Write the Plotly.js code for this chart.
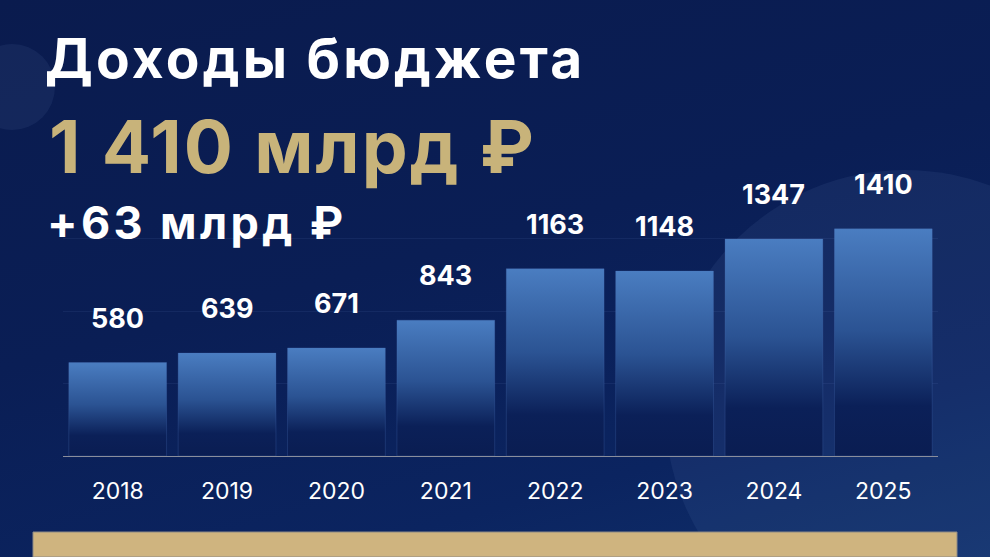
<!DOCTYPE html>
<html>
<head>
<meta charset="utf-8">
<script src="https://cdn.plot.ly/plotly-3.0.1.min.js"></script>
<style>
  html, body { margin: 0; padding: 0; width: 990px; height: 557px; overflow: hidden; }
  body { background: linear-gradient(165deg, #0A1B4E 0%, #0A1E55 45%, #0B2460 78%, #10306B 100%); }
  #chart { width: 990px; height: 557px; }
</style>
</head>
<body>
<div id="chart"></div>
<script>
// ---- data ----
const years = ['2018', '2019', '2020', '2021', '2022', '2023', '2024', '2025'];
const revenue = [580, 639, 671, 843, 1163, 1148, 1347, 1410];
const valueLabels = ['580', '639', '671', '843', '1163', '1148', '1347', '1410'];
const titleText = 'Доходы бюджета';
const totalText = '1 410 млрд ₽';
const deltaText = '+63 млрд ₽';

// ---- layout helpers (pixel -> paper fraction of plot area) ----
const W = 990, H = 557;
const M = { l: 63, r: 52, t: 166, b: 101 };
const PW = W - M.l - M.r, PH = H - M.t - M.b;
const px = x => (x - M.l) / PW;
const py = y => (H - M.b - y) / PH;

const FONT = 'Inter, "Noto Sans", sans-serif';

const headers = [
  { text: '<b>' + titleText + '</b>', x: px(43), y: py(58), size: 55, color: '#FFFFFF', spacing: 3.2 },
  { text: '<b>' + totalText + '</b>', x: px(47), y: py(146), size: 73, color: '#C8B37A', spacing: 2 },
  { text: '<b>' + deltaText + '</b>', x: px(45), y: py(222), size: 45, color: '#FFFFFF', spacing: 3.4 }
];

const annotations = headers.map(h => ({
  xref: 'paper', yref: 'paper', x: h.x, y: h.y, xanchor: 'left', yanchor: 'middle', align: 'left',
  showarrow: false, text: h.text, font: { family: FONT, size: h.size, color: h.color }
}));
years.forEach((yr, i) => {
  annotations.push({
    xref: 'x', yref: 'y', x: i, y: revenue[i], text: '<b>' + valueLabels[i] + '</b>',
    showarrow: false, yanchor: 'bottom', yshift: 26,
    font: { family: FONT, size: 27, color: '#FFFFFF' }
  });
});

const shapes = [
  // decorative circles
  { type: 'circle', xref: 'paper', yref: 'paper', layer: 'below',
    x0: px(905 - 240), x1: px(905 + 240), y0: py(410 + 240), y1: py(410 - 240),
    fillcolor: 'rgba(120,150,210,0.09)', line: { width: 0 } },
  { type: 'circle', xref: 'paper', yref: 'paper', layer: 'below',
    x0: px(12 - 43), x1: px(12 + 43), y0: py(87 + 43), y1: py(87 - 43),
    fillcolor: 'rgba(120,150,210,0.09)', line: { width: 0 } },
  // gold band
  { type: 'rect', xref: 'paper', yref: 'paper', layer: 'above',
    x0: px(33), x1: px(957), y0: py(557), y1: py(532),
    fillcolor: '#CFB47F', line: { width: 1, color: '#8E8A86' } }
];

const trace = {
  type: 'bar', x: years, y: revenue,
  marker: { color: '#3F70B3', line: { width: 1, color: 'rgba(80,120,190,0.25)' } },
  hoverinfo: 'x+y'
};

const layout = {
  width: W, height: H,
  margin: M,
  paper_bgcolor: 'rgba(0,0,0,0)',
  plot_bgcolor: 'rgba(0,0,0,0)',
  bargap: 0.106,
  showlegend: false,
  xaxis: {
    type: 'category', range: [-0.5, years.length - 0.5], autorange: false,
    showgrid: false, zeroline: false,
    showline: true, linecolor: '#8A8E9C', linewidth: 1,
    ticks: '', ticklabelstandoff: 14,
    tickfont: { family: FONT, size: 23, color: '#FFFFFF' }
  },
  yaxis: {
    range: [0, 1800], autorange: false, dtick: 450, showticklabels: false, ticks: '',
    showgrid: true, gridcolor: 'rgba(120,150,220,0.09)', gridwidth: 1,
    zeroline: false
  },
  annotations: annotations,
  shapes: shapes
};

Plotly.newPlot('chart', [trace], layout, { displayModeBar: false, staticPlot: true }).then(gd => {
  const svg = gd.querySelector('.main-svg');
  const ns = 'http://www.w3.org/2000/svg';
  let defs = svg.querySelector('defs');
  if (!defs) { defs = document.createElementNS(ns, 'defs'); svg.insertBefore(defs, svg.firstChild); }
  const grad = document.createElementNS(ns, 'linearGradient');
  grad.setAttribute('id', 'barGrad');
  grad.setAttribute('x1', '0'); grad.setAttribute('y1', '0');
  grad.setAttribute('x2', '0'); grad.setAttribute('y2', '1');
  [['0', '#4A7DC1'], ['0.45', '#2B5393'], ['0.78', '#0B2058'], ['1', '#0A1D52']].forEach(([o, c]) => {
    const s = document.createElementNS(ns, 'stop');
    s.setAttribute('offset', o); s.setAttribute('stop-color', c);
    grad.appendChild(s);
  });
  defs.appendChild(grad);
  gd.querySelectorAll('.barlayer .point path').forEach(p => { p.style.fill = 'url(#barGrad)'; });
  const annTexts = gd.querySelectorAll('.annotation-text');
  headers.forEach((h, i) => { if (annTexts[i]) annTexts[i].style.letterSpacing = h.spacing + 'px'; });
});
</script>
</body>
</html>
